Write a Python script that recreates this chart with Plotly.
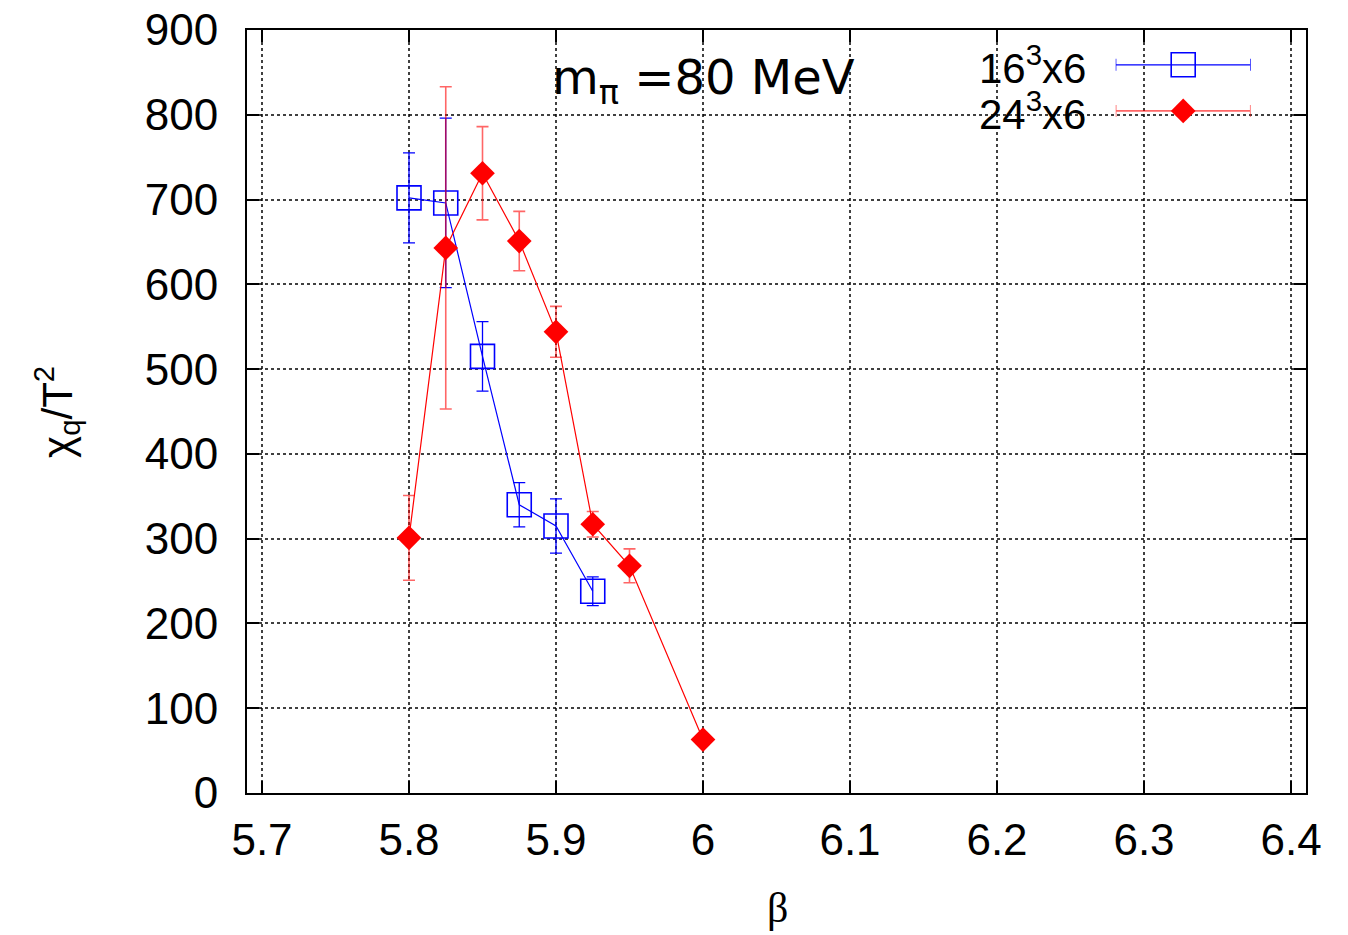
import plotly.graph_objects as go

# 16^3x6 lattice
beta_16 = [5.8, 5.825, 5.85, 5.875, 5.9, 5.925]
chi_16 = [702, 696, 515, 340, 315, 238]
err_16 = [53, 100, 41, 26, 32, 17]

# 24^3x6 lattice
beta_24 = [5.8, 5.825, 5.85, 5.875, 5.9, 5.925, 5.95, 6.0]
chi_24 = [301, 643, 731, 651, 544, 317, 268, 63]
err_24 = [50, 190, 55, 35, 30, 15, 20, 5]

x_ticks = [5.7, 5.8, 5.9, 6.0, 6.1, 6.2, 6.3, 6.4]
x_tick_text = ['5.7', '5.8', '5.9', '6', '6.1', '6.2', '6.3', '6.4']
y_ticks = [0, 100, 200, 300, 400, 500, 600, 700, 800, 900]

BLUE = 'rgb(0,0,255)'
RED = 'rgb(255,0,0)'
FONT = 'Liberation Sans, Arial, sans-serif'

fig = go.Figure()

fig.add_trace(go.Scatter(
    x=beta_16, y=chi_16,
    mode='lines+markers',
    line=dict(color=BLUE, width=1.2),
    marker=dict(symbol='square-open', size=24, color=BLUE, line=dict(width=1.6)),
    error_y=dict(type='data', array=err_16, color=BLUE, thickness=1.3, width=6),
    showlegend=False,
))
fig.add_trace(go.Scatter(
    x=beta_24, y=chi_24,
    mode='lines+markers',
    line=dict(color=RED, width=1.2),
    marker=dict(symbol='diamond', size=19, color=RED),
    error_y=dict(type='data', array=err_24, color='rgba(255,0,0,0.6)', thickness=1.6, width=6),
    showlegend=False,
))

# gnuplot-style key: text on the left, sample with error bar on the right
# (drawn in a small separate axis box that sits inside the top-right corner)
key_rows = [0.75, 0.25]
key_labels = ['16<sup>3</sup>x6', '24<sup>3</sup>x6']
fig.add_trace(go.Scatter(
    x=[0.5], y=[key_rows[0]], xaxis='x2', yaxis='y2',
    mode='markers',
    marker=dict(symbol='square-open', size=24, color=BLUE, line=dict(width=1.6)),
    error_x=dict(type='constant', value=0.5, color=BLUE, thickness=1.3, width=6),
    showlegend=False, hoverinfo='skip',
))
fig.add_trace(go.Scatter(
    x=[0.5], y=[key_rows[1]], xaxis='x2', yaxis='y2',
    mode='markers',
    marker=dict(symbol='diamond', size=19, color=RED),
    error_x=dict(type='constant', value=0.5, color='rgba(255,0,0,0.6)', thickness=1.6, width=6),
    showlegend=False, hoverinfo='skip',
))
key_y_domain = [0.8638, 0.9846]
for row, label in zip(key_rows, key_labels):
    fig.add_annotation(
        xref='paper', yref='y2', x=0.794, y=row,
        xanchor='right', yanchor='middle', showarrow=False,
        text=label, font=dict(family=FONT, size=42, color='black'),
    )

axis_common = dict(
    showline=True, linecolor='black', linewidth=2, mirror='allticks',
    ticks='inside', ticklen=12, tickwidth=2, tickcolor='black',
    showgrid=True, gridcolor='rgba(0,0,0,0.75)', griddash='dot', gridwidth=1.5,
    zeroline=False, automargin=False, ticklabeloverflow='allow',
    tickfont=dict(family=FONT, size=44, color='black'),
)

# page body adds an 8px offset, so margins are shifted to compensate
fig.update_layout(
    width=1348, height=935,
    margin=dict(l=239, r=50, t=22, b=150),
    plot_bgcolor='rgba(0,0,0,0)', paper_bgcolor='white',
    xaxis=dict(range=[5.6898, 6.4102], tickvals=x_ticks, ticktext=x_tick_text,
               ticklabelstandoff=7, **axis_common),
    yaxis=dict(range=[0, 900], tickvals=y_ticks, ticklabelstandoff=18, **axis_common),
    xaxis2=dict(domain=[0.8203, 0.9478], range=[0, 1], visible=False, anchor='y2',
                fixedrange=True),
    yaxis2=dict(domain=key_y_domain, range=[0, 1], visible=False, anchor='x2',
                fixedrange=True),
    showlegend=False,
)

fig.add_annotation(
    xref='x', yref='y', x=6.0, y=840, showarrow=False,
    text='m<sub>π</sub> =80 MeV',
    font=dict(family='DejaVu Sans, Verdana, sans-serif', size=48, color='black'),
)
fig.add_annotation(
    xref='paper', yref='paper', x=-0.18, y=0.5, textangle=-90,
    xanchor='center', yanchor='middle', showarrow=False,
    text='χ<sub>q</sub>/T<sup>2</sup>',
    font=dict(family=FONT, size=42, color='black'),
)
fig.add_annotation(
    xref='paper', yref='paper', x=0.501, y=-0.118,
    xanchor='center', yanchor='top', showarrow=False,
    text='β',
    font=dict(family='Liberation Serif, Times New Roman, serif', size=42, color='black'),
)

fig.write_html('out.html')
